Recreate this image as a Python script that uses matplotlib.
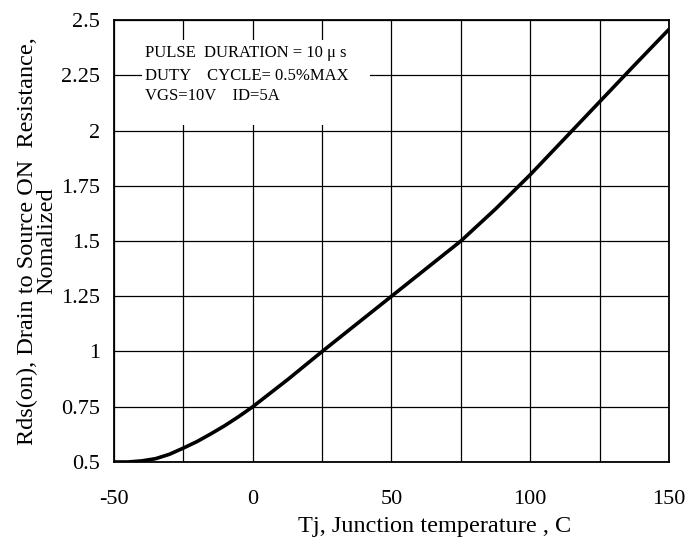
import matplotlib.pyplot as plt
from matplotlib.patches import Rectangle

# Normalized Rds(on) vs junction temperature
temp = [-50, -45, -40, -35, -30, -25, -20, -15, -10, -5, 0, 12.5, 25, 37.5, 50,
        62.5, 75, 87.5, 100, 112.5, 125, 137.5, 150]
rds_norm = [0.5, 0.5, 0.505, 0.515, 0.535, 0.563, 0.593, 0.628, 0.665, 0.706, 0.75,
            0.872, 1.0, 1.125, 1.25, 1.375, 1.5, 1.645, 1.80, 1.965, 2.13, 2.295, 2.458]

x_ticks = [-50, 0, 50, 100, 150]
y_ticks = [0.5, 0.75, 1, 1.25, 1.5, 1.75, 2, 2.25, 2.5]
y_tick_labels = ['0.5', '0.75', '1', '1.25', '1.5', '1.75', '2', '2.25', '2.5']

note_lines = ['PULSE  DURATION = 10 \u03bc s',
              'DUTY    CYCLE= 0.5%MAX',
              'VGS=10V    ID=5A']

plt.rcParams['font.family'] = ['Liberation Serif', 'DejaVu Serif']
plt.rcParams['axes.unicode_minus'] = False

fig = plt.figure(figsize=(6.95, 5.45), dpi=100)
ax = fig.add_axes([0.164, 0.1523, 0.7986, 0.811])

ax.plot(temp, rds_norm, color='black', linewidth=2.6, solid_capstyle='butt', zorder=3)

ax.set_xlim(-50, 150)
ax.set_ylim(0.5, 2.5)
ax.set_xticks(x_ticks)
ax.set_xticks(range(-50, 151, 25), minor=True)
ax.set_yticks(y_ticks)
ax.set_yticklabels(y_tick_labels)
ax.grid(True, which='both', color='black', linewidth=0.9, zorder=1)
ax.tick_params(which='both', length=0, labelsize=16)
ax.tick_params(axis='x', pad=20)
ax.tick_params(axis='y', pad=10)
for s in ax.spines.values():
    s.set_linewidth(1.3)

# white box behind the test-condition note
ax.add_patch(Rectangle((-40, 2.025), 82.3, 0.385, facecolor='white',
                       edgecolor='none', zorder=2))
ax.text(-39, 2.351, note_lines[0], fontsize=12, va='center', zorder=4)
ax.text(-39, 2.247, note_lines[1], fontsize=12, va='center', zorder=4)
ax.text(-39, 2.156, note_lines[2], fontsize=12, va='center', zorder=4)

ax.set_xlabel('Tj, Junction temperature , C', fontsize=17.5)
ax.xaxis.set_label_coords(0.577, -0.145, transform=ax.transAxes)
ax.xaxis.label.set_va('center')
ax.set_ylabel('Rds(on), Drain to Source ON  Resistance,\nNomalized',
              fontsize=17.5, labelpad=3, linespacing=0.85)

fig.savefig('out.png', dpi=100)
